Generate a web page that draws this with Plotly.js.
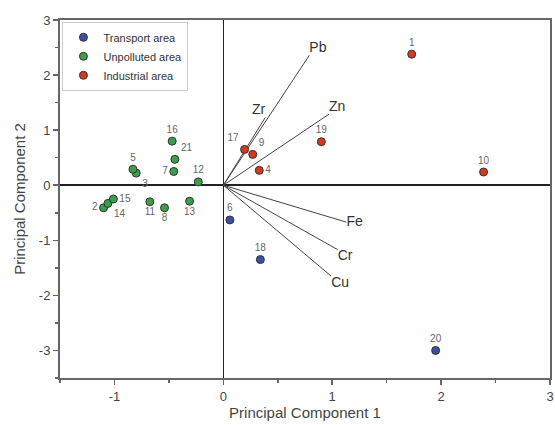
<!DOCTYPE html>
<html>
<head>
<meta charset="utf-8">
<script src="https://cdn.plot.ly/plotly-3.0.1.min.js"></script>
<style>html,body{margin:0;padding:0;background:#fff;}#chart{width:555px;height:425px;}</style>
</head>
<body>
<div id="chart"></div>
<script>
// Sample scores
var transportLabels = ['6', '18', '20'];
var transportPC1 = [0.06, 0.34, 1.95];
var transportPC2 = [-0.63, -1.35, -3.00];
var transportPos = ['top center', 'top center', 'top center'];

var unpollutedLabels = ['2', '3', '5', '7', '8', '11', '12', '13', '14', '15', '16', '21'];
var unpollutedPC1 = [-1.10, -0.80, -0.83, -0.455, -0.54, -0.675, -0.23, -0.31, -1.06, -1.01, -0.47, -0.445];
var unpollutedPC2 = [-0.41, 0.22, 0.29, 0.25, -0.41, -0.30, 0.06, -0.29, -0.33, -0.25, 0.80, 0.47];
var unpollutedPos = ['middle left', 'bottom right', 'top center', 'middle left', 'bottom center', 'bottom center', 'top center', 'bottom center', 'bottom right', 'middle right', 'top center', 'top right'];

var industrialLabels = ['1', '4', '9', '10', '17', '19'];
var industrialPC1 = [1.73, 0.33, 0.27, 2.39, 0.195, 0.90];
var industrialPC2 = [2.38, 0.27, 0.56, 0.24, 0.65, 0.79];
var industrialPos = ['top center', 'middle right', 'top right', 'top center', 'top left', 'top center'];

// Variable loadings
var loadingNames = ['Pb', 'Zr', 'Zn', 'Fe', 'Cr', 'Cu'];
var loadingPC1 = [0.79, 0.385, 0.97, 1.13, 1.05, 0.99];
var loadingPC2 = [2.36, 1.23, 1.29, -0.67, -1.17, -1.65];
var loadingPos = ['top right', 'top left', 'top right', 'middle right', 'bottom right', 'bottom right'];

// Tick labels
var xTickVals = [-1, 0, 1, 2, 3];
var xTickText = ['-1', '0', '1', '2', '3'];
var yTickVals = [-3, -2, -1, 0, 1, 2, 3];
var yTickText = ['-3', '-2', '-1', '0', '1', '2', '3'];

var lx = [], ly = [];
for (var i = 0; i < loadingNames.length; i++) {
  lx.push(0, loadingPC1[i], null);
  ly.push(0, loadingPC2[i], null);
}

var FONT = 'Liberation Sans, Arial, sans-serif';
var labelFont = {family: FONT, size: 10, color: '#666'};

function group(name, x, y, t, pos, color) {
  return {
    type: 'scatter', mode: 'markers+text', name: name,
    x: x, y: y, text: t, textposition: pos, textfont: labelFont,
    marker: {size: 8, color: color, line: {color: '#333', width: 1}},
    cliponaxis: false
  };
}

var traces = [
  {type: 'scatter', mode: 'lines', x: lx, y: ly, showlegend: false, hoverinfo: 'skip',
   line: {color: '#444', width: 1}},
  {type: 'scatter', mode: 'text', x: loadingPC1, y: loadingPC2, text: loadingNames,
   textposition: loadingPos, showlegend: false,
   textfont: {family: FONT, size: 14, color: '#333'}},
  group('Transport area', transportPC1, transportPC2, transportLabels, transportPos, '#3b4fa6'),
  group('Unpolluted area', unpollutedPC1, unpollutedPC2, unpollutedLabels, unpollutedPos, '#3a9e4a'),
  group('Industrial area', industrialPC1, industrialPC2, industrialLabels, industrialPos, '#d43a22')
];

var axisCommon = {
  showgrid: false, zeroline: true, zerolinecolor: '#222', zerolinewidth: 1.5,
  showline: true, linecolor: '#666', linewidth: 2, mirror: true,
  ticks: 'outside', ticklen: 5, tickcolor: '#666', tickwidth: 1.5,
  tickmode: 'array',
  minor: {dtick: 0.5, tick0: 0, ticks: 'outside', ticklen: 3, tickcolor: '#666'},
  tickfont: {family: FONT, size: 13, color: '#444'}
};

var layout = {
  width: 555, height: 425,
  margin: {l: 60, r: 5, t: 20, b: 47},
  paper_bgcolor: '#fff', plot_bgcolor: '#fff',
  showlegend: true,
  legend: {x: 0.005, y: 0.995, xanchor: 'left', yanchor: 'top',
    bgcolor: '#fff', bordercolor: '#ccc', borderwidth: 1,
    font: {family: FONT, size: 11, color: '#333'},
    itemsizing: 'trace', itemwidth: 30, tracegroupgap: 0},
  xaxis: Object.assign({}, axisCommon, {range: [-1.5, 3],
    tickvals: xTickVals, ticktext: xTickText,
    title: {text: 'Principal Component 1', standoff: 4,
      font: {family: FONT, size: 15, color: '#444'}}}),
  yaxis: Object.assign({}, axisCommon, {range: [-3.5, 3],
    tickvals: yTickVals, ticktext: yTickText,
    title: {text: 'Principal Component 2', standoff: 10,
      font: {family: FONT, size: 15, color: '#444'}}})
};

Plotly.newPlot('chart', traces, layout, {displayModeBar: false, staticPlot: true});
</script>
</body>
</html>
